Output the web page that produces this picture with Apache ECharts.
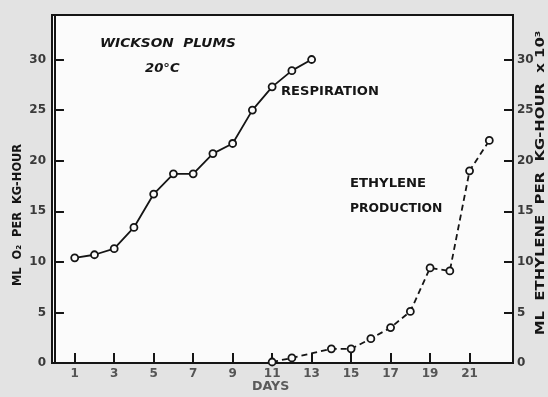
<!DOCTYPE html>
<html>
<head>
<meta charset="utf-8">
<script src="https://cdn.jsdelivr.net/npm/echarts@6/dist/echarts.min.js"></script>
<style>
html,body{margin:0;padding:0;background:#e3e3e3;}
#c{width:548px;height:397px;}
</style>
</head>
<body>
<div id="c"></div>
<script>
const respDays = [1,2,3,4,5,6,7,8,9,10,11,12,13];
const respiration = [10.4, 10.7, 11.3, 13.4, 16.7, 18.7, 18.7, 20.7, 21.7, 25.0, 27.3, 28.9, 30.0];
const ethDays = [11,12,14,15,16,17,18,19,20,21,22];
const ethylene = [0.1, 0.5, 1.4, 1.4, 2.4, 3.5, 5.1, 9.4, 9.1, 19.0, 22.0];
const dayTicks = [1,3,5,7,9,11,13,15,17,19,21];
const yTicks = [0,5,10,15,20,25,30];

const chart = echarts.init(document.getElementById('c'));
const ink = '#151515';
const font = 'DejaVu Sans';
const labelStyle = {color:'#3a3a3a', fontFamily:font, fontWeight:'bold', fontSize:12};

chart.setOption({
  animation:false,
  backgroundColor:'#e3e3e3',
  grid:{left:52, right:35, top:15, bottom:34, show:true, backgroundColor:'#fbfbfb', borderColor:ink, borderWidth:2},
  xAxis:{
    type:'value', min:-0.15, max:23.2,
    axisLine:{lineStyle:{color:ink, width:2}},
    axisTick:{inside:true, length:10, customValues:dayTicks, lineStyle:{color:ink, width:2}},
    axisLabel:Object.assign({customValues:dayTicks, margin:5}, labelStyle, {color:'#555'}),
    splitLine:{show:false}
  },
  yAxis:[
    {type:'value', min:0, max:34.4, position:'left',
     axisLine:{show:true, lineStyle:{color:ink, width:2}},
     axisTick:{show:true, inside:true, length:9, customValues:yTicks, lineStyle:{color:ink, width:2}},
     axisLabel:Object.assign({customValues:yTicks, margin:6}, labelStyle),
     splitLine:{show:false}},
    {type:'value', min:0, max:34.4, position:'right',
     axisLine:{show:true, lineStyle:{color:ink, width:2}},
     axisTick:{show:true, inside:true, length:9, customValues:yTicks, lineStyle:{color:ink, width:2}},
     axisLabel:Object.assign({customValues:yTicks, margin:4}, labelStyle),
     splitLine:{show:false}}
  ],
  series:[
    {type:'line', name:'Respiration', yAxisIndex:0,
     data:respDays.map((d,i)=>[d, respiration[i]]),
     symbol:'circle', symbolSize:7,
     itemStyle:{color:'#fbfbfb', borderColor:ink, borderWidth:1.8},
     lineStyle:{color:ink, width:1.8}},
    {type:'line', name:'Ethylene', yAxisIndex:1,
     data:ethDays.map((d,i)=>[d, ethylene[i]]),
     symbol:'circle', symbolSize:7,
     itemStyle:{color:'#fbfbfb', borderColor:ink, borderWidth:1.8},
     lineStyle:{color:ink, width:1.8, type:[6,4]}}
  ],
  graphic:[
    {type:'text', left:100, top:38, scaleX:1.14, style:{text:'WICKSON  PLUMS', fill:ink, font:'italic bold 12px "DejaVu Sans"'}},
    {type:'text', left:145, top:63, scaleX:1.1, style:{text:'20°C', fill:ink, font:'italic bold 12px "DejaVu Sans"'}},
    {type:'text', left:281, top:86, scaleX:1.09, style:{text:'RESPIRATION', fill:ink, font:'bold 12px "DejaVu Sans"'}},
    {type:'text', left:350, top:178, scaleX:1.1, style:{text:'ETHYLENE', fill:ink, font:'bold 12px "DejaVu Sans"'}},
    {type:'text', left:350, top:203, scaleX:1.03, style:{text:'PRODUCTION', fill:ink, font:'bold 12px "DejaVu Sans"'}},
    {type:'text', left:252, top:381, scaleX:1.05, style:{text:'DAYS', fill:'#5a5a5a', font:'bold 12px "DejaVu Sans"'}},
    {type:'text', x:18, y:215, rotation:Math.PI/2, scaleX:0.95,
     style:{text:'ML  O₂  PER  KG-HOUR', fill:ink, font:'bold 12px "DejaVu Sans"', align:'center', verticalAlign:'middle'}},
    {type:'text', x:541, y:183, rotation:Math.PI/2, scaleX:1.24,
     style:{text:'ML  ETHYLENE  PER  KG-HOUR  x 10³', fill:ink, font:'bold 12px "DejaVu Sans"', align:'center', verticalAlign:'middle'}}
  ]
});
</script>
</body>
</html>
